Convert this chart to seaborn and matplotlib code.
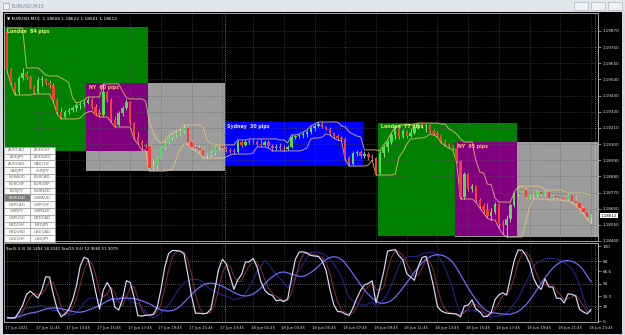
import numpy as np
import pandas as pd
import matplotlib
matplotlib.use("Agg")
import matplotlib.pyplot as plt
import matplotlib.transforms as mtransforms
from matplotlib.patches import Rectangle
import seaborn as sns

sns.set_theme(style="dark")
plt.rcParams['font.family'] = ['DejaVu Sans']

# ---------------- data (EURUSD M15, 17 Jun 09:45 -> 18 Jun 23:45) ----------------
first_open = 1.19865
closes = [
    1.19604, 1.19516, 1.19455, 1.19550, 1.19584, 1.19557, 1.19489, 1.19455, 1.19536, 1.19543,
    1.19516, 1.19502, 1.19400, 1.19318, 1.19284, 1.19318, 1.19332, 1.19346, 1.19366, 1.19373,
    1.19380, 1.19400, 1.19353, 1.19312, 1.19298, 1.19455, 1.19400, 1.19264, 1.19229, 1.19312,
    1.19346, 1.19386, 1.19243, 1.19148, 1.19114, 1.19094, 1.19087, 1.18937, 1.18950, 1.19005,
    1.19073, 1.19107, 1.19141, 1.19162, 1.19175, 1.19189, 1.19209, 1.19114, 1.19080, 1.19073,
    1.19060, 1.19019, 1.19025, 1.19039, 1.19080, 1.19087, 1.19073, 1.19060, 1.19053, 1.19046,
    1.19114, 1.19094, 1.19114, 1.19121, 1.19114, 1.19100, 1.19094, 1.19114, 1.19087, 1.19073,
    1.19080, 1.19073, 1.19066, 1.19080, 1.19148, 1.19155, 1.19162, 1.19168, 1.19182, 1.19209,
    1.19223, 1.19236, 1.19216, 1.19202, 1.19175, 1.19155, 1.19141, 1.19135, 1.19005, 1.18964,
    1.19039, 1.19046, 1.19019, 1.19032, 1.19012, 1.19005, 1.18903, 1.19039, 1.19080, 1.19114,
    1.19162, 1.19202, 1.19148, 1.19189, 1.19155, 1.19175, 1.19216, 1.19236, 1.19223, 1.19229,
    1.19189, 1.19175, 1.19162, 1.19121, 1.19100, 1.19087, 1.19073, 1.18985, 1.18740, 1.18896,
    1.18794, 1.18814, 1.18719, 1.18678, 1.18651, 1.18610, 1.18637, 1.18692, 1.18562, 1.18549,
    1.18590, 1.18685, 1.18760, 1.18794, 1.18787, 1.18740, 1.18746, 1.18753, 1.18774, 1.18760,
    1.18774, 1.18733, 1.18746, 1.18740, 1.18733, 1.18726, 1.18753, 1.18712, 1.18699, 1.18665,
    1.18637, 1.18604, 1.18612]
highs = [
    1.19890, 1.19618, 1.19523, 1.19563, 1.19618, 1.19597, 1.19570, 1.19502, 1.19557, 1.19563,
    1.19550, 1.19536, 1.19516, 1.19414, 1.19353, 1.19332, 1.19346, 1.19359, 1.19380, 1.19386,
    1.19400, 1.19420, 1.19414, 1.19373, 1.19339, 1.19509, 1.19462, 1.19414, 1.19291, 1.19325,
    1.19359, 1.19407, 1.19393, 1.19250, 1.19182, 1.19128, 1.19107, 1.19100, 1.18998, 1.19019,
    1.19087, 1.19121, 1.19155, 1.19175, 1.19189, 1.19202, 1.19229, 1.19216, 1.19128, 1.19100,
    1.19100, 1.19066, 1.19039, 1.19060, 1.19094, 1.19094, 1.19094, 1.19087, 1.19073, 1.19073,
    1.19128, 1.19128, 1.19128, 1.19135, 1.19135, 1.19128, 1.19135, 1.19128, 1.19128, 1.19100,
    1.19100, 1.19107, 1.19094, 1.19094, 1.19162, 1.19162, 1.19168, 1.19182, 1.19196, 1.19223,
    1.19236, 1.19250, 1.19250, 1.19223, 1.19216, 1.19182, 1.19168, 1.19155, 1.19148, 1.19019,
    1.19053, 1.19060, 1.19060, 1.19053, 1.19046, 1.19032, 1.19012, 1.19053, 1.19094, 1.19128,
    1.19175, 1.19216, 1.19229, 1.19202, 1.19196, 1.19209, 1.19236, 1.19243, 1.19243, 1.19236,
    1.19236, 1.19202, 1.19189, 1.19168, 1.19135, 1.19107, 1.19094, 1.19114, 1.18991, 1.18910,
    1.18903, 1.18828, 1.18822, 1.18733, 1.18699, 1.18699, 1.18665, 1.18705, 1.18699, 1.18583,
    1.18617, 1.18699, 1.18774, 1.18808, 1.18814, 1.18808, 1.18760, 1.18767, 1.18787, 1.18780,
    1.18787, 1.18780, 1.18760, 1.18753, 1.18746, 1.18746, 1.18767, 1.18760, 1.18753, 1.18705,
    1.18678, 1.18644, 1.18622]
lows = [
    1.19591, 1.19502, 1.19434, 1.19441, 1.19536, 1.19543, 1.19475, 1.19441, 1.19448, 1.19495,
    1.19502, 1.19482, 1.19386, 1.19305, 1.19271, 1.19277, 1.19305, 1.19318, 1.19325, 1.19339,
    1.19353, 1.19373, 1.19339, 1.19298, 1.19284, 1.19291, 1.19386, 1.19250, 1.19216, 1.19223,
    1.19291, 1.19332, 1.19229, 1.19135, 1.19100, 1.19060, 1.19073, 1.18916, 1.18923, 1.18930,
    1.18998, 1.19066, 1.19100, 1.19128, 1.19148, 1.19162, 1.19175, 1.19100, 1.19066, 1.19053,
    1.19039, 1.19005, 1.19005, 1.19012, 1.19025, 1.19060, 1.19053, 1.19046, 1.19039, 1.19032,
    1.19039, 1.19080, 1.19087, 1.19100, 1.19100, 1.19087, 1.19080, 1.19087, 1.19073, 1.19053,
    1.19060, 1.19060, 1.19053, 1.19060, 1.19073, 1.19135, 1.19141, 1.19141, 1.19148, 1.19168,
    1.19189, 1.19216, 1.19209, 1.19196, 1.19162, 1.19141, 1.19128, 1.19121, 1.18991, 1.18950,
    1.18957, 1.19019, 1.19005, 1.19005, 1.18991, 1.18991, 1.18889, 1.18896, 1.19012, 1.19046,
    1.19100, 1.19135, 1.19135, 1.19141, 1.19141, 1.19148, 1.19168, 1.19202, 1.19209, 1.19182,
    1.19175, 1.19162, 1.19148, 1.19107, 1.19087, 1.19073, 1.19060, 1.18971, 1.18726, 1.18726,
    1.18780, 1.18774, 1.18705, 1.18665, 1.18631, 1.18596, 1.18583, 1.18624, 1.18528, 1.18487,
    1.18467, 1.18569, 1.18671, 1.18746, 1.18767, 1.18726, 1.18726, 1.18733, 1.18740, 1.18746,
    1.18746, 1.18719, 1.18726, 1.18726, 1.18719, 1.18712, 1.18719, 1.18699, 1.18685, 1.18651,
    1.18624, 1.18590, 1.18561]

time_tick_bars = list(range(0, 153, 8))
time_tick_labels = ["17 Jun 2021", "17 Jun 11:45", "17 Jun 13:45", "17 Jun 15:45", "17 Jun 17:45",
                    "17 Jun 19:45", "17 Jun 21:45", "17 Jun 23:45", "18 Jun 01:45", "18 Jun 03:45",
                    "18 Jun 05:45", "18 Jun 07:45", "18 Jun 09:45", "18 Jun 11:45", "18 Jun 13:45",
                    "18 Jun 15:45", "18 Jun 17:45", "18 Jun 19:45", "18 Jun 21:45", "18 Jun 23:45"]
price_ticks = [1.18440, 1.18550, 1.18660, 1.18770, 1.18880, 1.18990, 1.19100,
               1.19210, 1.19320, 1.19430, 1.19540, 1.19650, 1.19760, 1.19870]
price_tick_labels = ["%.5f" % p for p in price_ticks]
sto_ticks = [0, 20, 33.3, 50, 66.6, 80, 100]
sto_tick_labels = ["0", "20", "33.3", "50", "66.6", "80", "100"]

# sessions (bar index of start/end, session high/low, label)
sess_name = ["London", "NY", "Sydney", "London", "NY"]
sess_start = [-2, 21, 57, 97, 117]
sess_end = [37, 57, 93, 133, 156]
sess_high = [1.19895, 1.19515, 1.19250, 1.19245, 1.19115]
sess_low = [1.19055, 1.18915, 1.18950, 1.18475, 1.18465]
sess_pips = [84, 60, 30, 77, 65]

symbols = ["AUDCAD", "AUDCHF", "AUDJPY", "AUDNZD", "AUDUSD", "CADCHF", "CADJPY", "CHFJPY",
           "EURAUD", "EURCAD", "EURCHF", "EURGBP", "EURJPY", "EURNZD", "EURUSD", "GBPAUD",
           "GBPCAD", "GBPCHF", "GBPJPY", "GBPNZD", "GBPUSD", "NZDCAD", "NZDCHF", "NZDJPY",
           "NZDUSD", "USDCAD", "USDCHF", "USDJPY"]
active_symbol = "EURUSD"
header_main = "\u25BC EURUSD,M15  1.18604 1.18622 1.18561 1.18612"
header_sto = "Sto(5,3,3) 26.1494 18.3241 Sto(15,9,6) 12.9565 51.3079"
window_title = "EURUSD,M15"
last_price = 1.18612

# ---------------- derived series ----------------
n = len(closes)
idx = np.arange(n)
c = pd.Series(closes)
h = pd.Series(highs)
l = pd.Series(lows)
o = pd.Series([first_open] + closes[:-1])

def stochastic(k, d, s):
    hh = h.rolling(k, min_periods=1).max()
    ll = l.rolling(k, min_periods=1).min()
    num = (c - ll).rolling(s, min_periods=1).sum()
    den = (hh - ll).rolling(s, min_periods=1).sum()
    main = 100 * num / den
    sig = main.rolling(d, min_periods=1).mean()
    return main, sig

st5_main, st5_sig = stochastic(5, 3, 3)
st15_main, st15_sig = stochastic(15, 9, 6)
don_up = h.rolling(5, min_periods=1).max()
don_dn = l.rolling(5, min_periods=1).min()

# ---------------- figure ----------------
W, H = 625, 335
fig = plt.figure(figsize=(W / 100, H / 100), dpi=100)
fig.patch.set_facecolor('#d5d9e0')

def fx(x):
    return x / W

def fy(y):
    return 1 - y / H

# title bar
fig.add_artist(Rectangle((0, fy(11)), 1, 11 / H, transform=fig.transFigure,
                         facecolor='#e3e6eb', edgecolor='none', zorder=-10))
fig.add_artist(Rectangle((fx(3), fy(9)), 6 / W, 6 / H, transform=fig.transFigure,
                         facecolor='#f4f4f4', edgecolor='#7d8796', lw=0.4, zorder=-9))
fig.text(fx(12), fy(5.8), window_title, fontsize=3.6, color='#7d8796', va='center', ha='left')
for bx in (574, 591, 608):
    fig.add_artist(Rectangle((fx(bx), fy(10)), 14 / W, 8 / H, transform=fig.transFigure,
                             facecolor='#eef0f3', edgecolor='#a9afb9', lw=0.4, zorder=-9))
# black chart area
fig.add_artist(Rectangle((fx(3), fy(334)), 619 / W, 322 / H, transform=fig.transFigure,
                         facecolor='black', edgecolor='none', zorder=-8))

XL = (-0.86, 153.8)
grid_kw = dict(color='#5c5c5c', lw=0.5, ls=(0, (1, 2)), zorder=1)

# ---------------- main price axes ----------------
ax = fig.add_axes([fx(4), fy(241), 594 / W, 228 / H])
ax.set_facecolor('black')
ax.set_xlim(*XL)
ax.set_ylim(1.18440, 1.19992)

def box(i, color, x0=None, x1=None, y0=None, y1=None):
    x0 = sess_start[i] - 0.4 if x0 is None else x0
    x1 = sess_end[i] - 0.4 if x1 is None else x1
    y0 = sess_low[i] if y0 is None else y0
    y1 = sess_high[i] if y1 is None else y1
    ax.add_patch(Rectangle((x0, y0), x1 - x0, y1 - y0, facecolor=color, edgecolor='none', zorder=0.5))

for i, nm in enumerate(sess_name):
    if nm == "NY":
        box(i, '#9c9c9c')
for i, nm in enumerate(sess_name):
    if nm == "London":
        box(i, '#008000')
for i, nm in enumerate(sess_name):
    if nm == "London":
        for j, nm2 in enumerate(sess_name):
            if nm2 == "NY" and sess_start[j] < sess_end[i] and sess_end[j] > sess_start[i]:
                box(i, '#800080', x0=max(sess_start[i], sess_start[j]) - 0.4,
                    x1=min(sess_end[i], sess_end[j]) - 0.4,
                    y0=max(sess_low[i], sess_low[j]), y1=min(sess_high[i], sess_high[j]))
for i, nm in enumerate(sess_name):
    if nm == "Sydney":
        box(i, '#0000ff')

label_colors = {"London": '#dcf56e', "NY": '#ffb46e', "Sydney": '#e6e6ff'}
for i, nm in enumerate(sess_name):
    x0 = max(sess_start[i] - 0.4, XL[0])
    ax.annotate(f"{nm}  {sess_pips[i]} pips", xy=(x0, sess_high[i]), xytext=(2.0, -1.2),
                textcoords='offset points', fontsize=3.4, fontweight='bold',
                color=label_colors[nm], ha='left', va='top', zorder=6)

# grid
for b in time_tick_bars:
    ax.axvline(b, **grid_kw)
for p in price_ticks:
    ax.axhline(p, **grid_kw)
ax.axvline(56.6, color='#d0d0d0', lw=0.5, ls=(0, (1, 2)), zorder=1.2)
ax.axvline(153.0, color='#d0d0d0', lw=0.5, ls=(0, (1, 2)), zorder=1.2)

# donchian band
sns.lineplot(x=idx, y=don_up.values, ax=ax, color='#e8c47a', lw=0.7, alpha=0.8, zorder=2, legend=False)
sns.lineplot(x=idx, y=don_dn.values, ax=ax, color='#e8c47a', lw=0.7, alpha=0.8, zorder=2, legend=False)

# candles
bull = (c >= o).values
body_lo = np.minimum(o.values, c.values)
body_h = np.maximum(np.abs(c.values - o.values), 0.00003)
col = np.where(bull, '#4fe04f', '#ff3b2f')
ax.vlines(idx, l.values, h.values, colors=np.where(bull, '#c8ffc8', '#ffb0a8'), lw=0.5, zorder=3)
ax.bar(idx, body_h, bottom=body_lo, width=0.62, color=col, edgecolor='none', zorder=4)

ax.set_xticks([])
ax.yaxis.tick_right()
ax.set_yticks(price_ticks)
ax.set_yticklabels(price_tick_labels)
ax.tick_params(axis='y', length=2, width=0.4, pad=1.2, colors='#e6e6e6', labelsize=3.0)
for s in ax.spines.values():
    s.set_color('#bdbdbd')
    s.set_linewidth(0.6)
ax.grid(False)

ax.text(1.004, last_price, f"{last_price:.5f}", transform=ax.get_yaxis_transform(),
        fontsize=3.0, color='black', va='center', ha='left', zorder=10, clip_on=False,
        bbox=dict(boxstyle='square,pad=0.15', facecolor='white', edgecolor='none'))
ax.text(0.005, 0.985, header_main, transform=ax.transAxes, fontsize=3.1, color='white',
        va='top', ha='left', zorder=10)

# ---------------- stochastic axes ----------------
ax2 = fig.add_axes([fx(4), fy(322), 594 / W, 79 / H])
ax2.set_facecolor('black')
ax2.set_xlim(*XL)
ax2.set_ylim(-1.33, 104)
for b in time_tick_bars:
    ax2.axvline(b, **grid_kw)
for lv in (80, 50, 20):
    ax2.axhline(lv, color='#9a9a9a', lw=0.5, ls=(0, (1, 2)), zorder=1)
ax2.axvline(56.6, color='#d0d0d0', lw=0.5, ls=(0, (1, 2)), zorder=1.2)
ax2.axvline(153.0, color='#d0d0d0', lw=0.5, ls=(0, (1, 2)), zorder=1.2)

sns.lineplot(x=idx, y=st15_main.values, ax=ax2, color='#24248a', lw=0.8, zorder=2, legend=False)
sns.lineplot(x=idx, y=st5_sig.values, ax=ax2, color='#8a2a3a', lw=0.7, zorder=2, legend=False)
sns.lineplot(x=idx, y=st15_sig.values, ax=ax2, color='#6a6aff', lw=0.9, zorder=3, legend=False)
sns.lineplot(x=idx, y=st5_main.values, ax=ax2, color='#dcdcff', lw=0.85, zorder=4, legend=False)

ax2.yaxis.tick_right()
ax2.set_yticks(sto_ticks)
ax2.set_yticklabels(sto_tick_labels)
ax2.tick_params(axis='y', length=2, width=0.4, pad=1.2, colors='#e6e6e6', labelsize=3.0)
ax2.set_xticks(time_tick_bars)
ax2.set_xticklabels(time_tick_labels)
ax2.tick_params(axis='x', length=2, width=0.4, pad=1.0, colors='#e6e6e6', labelsize=2.7)
off = mtransforms.ScaledTranslation(-2.5 / 100, 0, fig.dpi_scale_trans)
for lbl in ax2.get_xticklabels():
    lbl.set_ha('left')
    lbl.set_transform(lbl.get_transform() + off)
for s in ax2.spines.values():
    s.set_color('#bdbdbd')
    s.set_linewidth(0.6)
ax2.set_xlabel('')
ax2.set_ylabel('')
ax.set_xlabel('')
ax.set_ylabel('')
ax2.grid(False)
ax2.text(0.004, 0.95, header_sto, transform=ax2.transAxes, fontsize=2.8, color='white',
         va='top', ha='left', zorder=10)

# ---------------- symbol buttons ----------------
row_h = 6.8
top0 = 242 - 14 * row_h
for k, sym in enumerate(symbols):
    r, cc = divmod(k, 2)
    x0 = 4 + cc * 25.5
    y0 = top0 + r * row_h
    act = sym == active_symbol
    fig.add_artist(Rectangle((fx(x0), fy(y0 + row_h)), 25.5 / W, row_h / H, transform=fig.transFigure,
                             facecolor='#7c7c7c' if act else '#fbfbfb', edgecolor='#9a9a9a', lw=0.4, zorder=20))
    fig.text(fx(x0 + 12.75), fy(y0 + row_h / 2), sym, fontsize=2.9,
             color='white' if act else '#6a6a6a', ha='center', va='center', zorder=21)

fig.savefig("out.png", dpi=100, facecolor=fig.get_facecolor())
